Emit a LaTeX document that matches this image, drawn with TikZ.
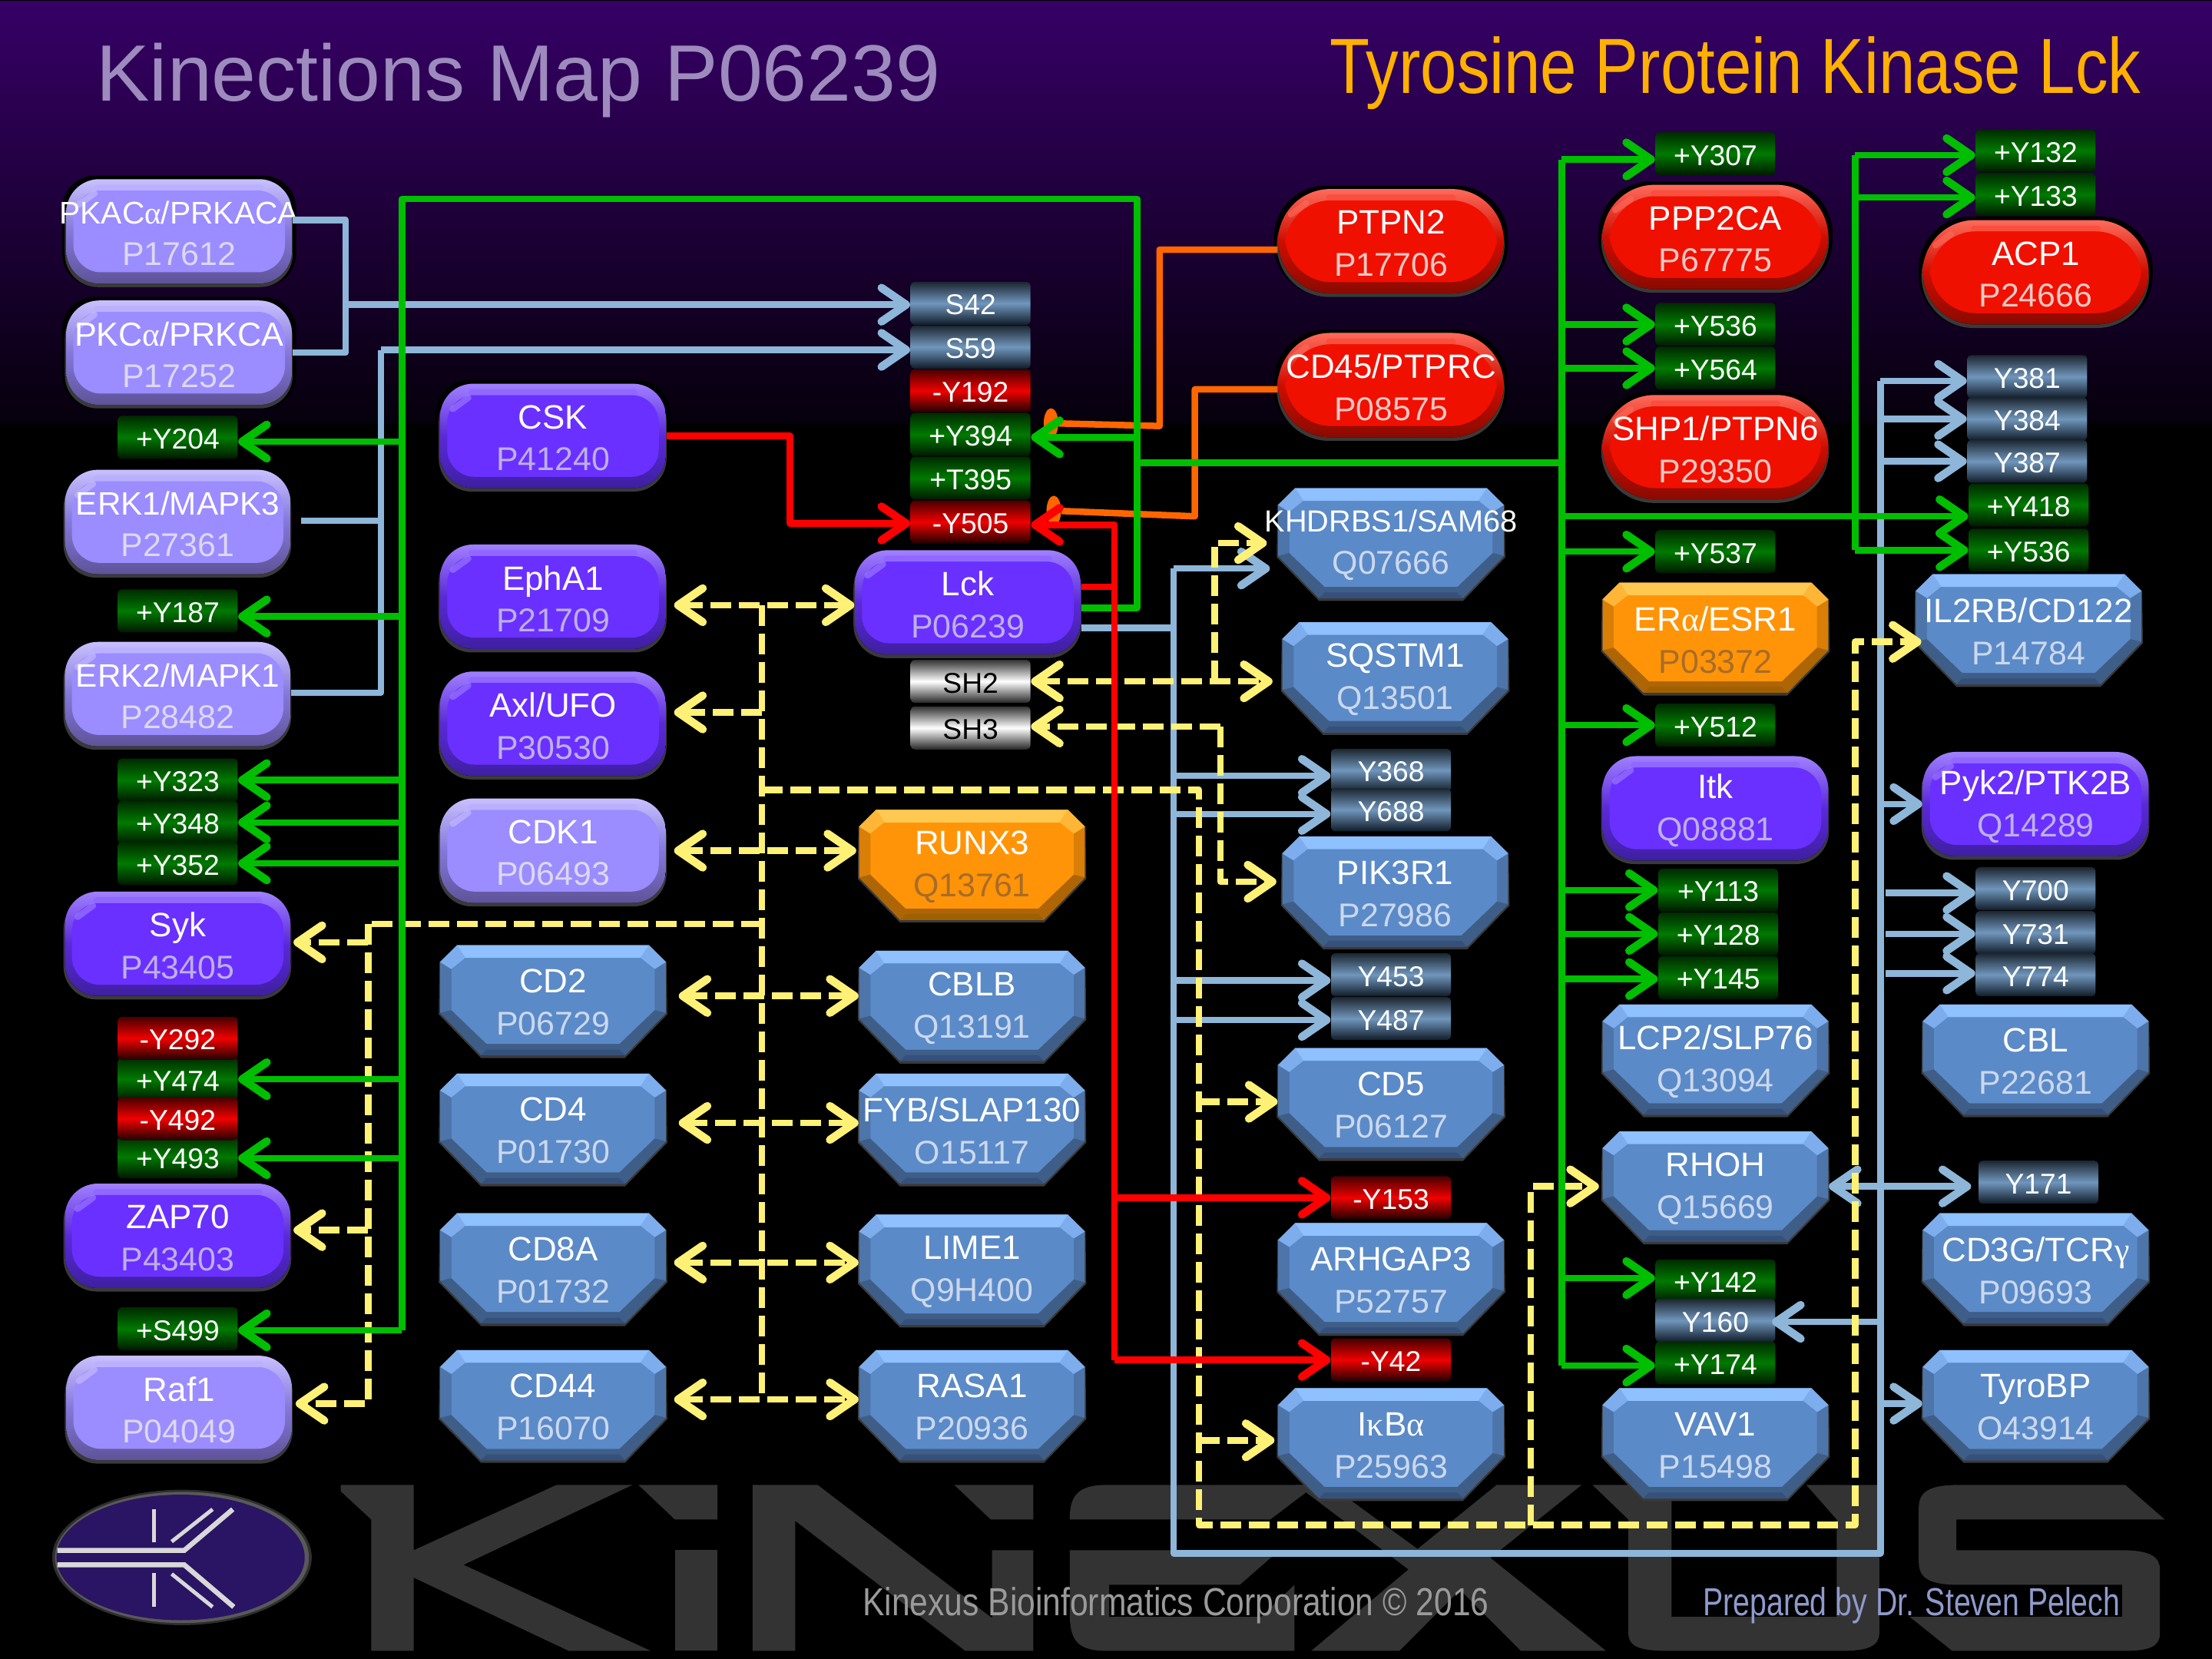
\documentclass[tikz,border=0pt]{standalone}
\usepackage{fontspec}
\usetikzlibrary{arrows.meta,shapes.geometric}
\setmainfont{Liberation Sans}
\newfontfamily\grk{Liberation Serif}
\newfontfamily\narrowa[FakeStretch=0.836]{Liberation Sans}
\newfontfamily\narrowb[FakeStretch=0.836]{Liberation Sans}
\newfontfamily\narrowc[FakeStretch=0.771]{Liberation Sans}
\definecolor{Ltop}{HTML}{C8C0FF}\definecolor{Lface}{HTML}{9B8CFF}\definecolor{Lbot}{HTML}{5E5398}\definecolor{Lid}{HTML}{DCD8F0}
\definecolor{Ptop}{HTML}{A080FF}\definecolor{Pface}{HTML}{6A30FF}\definecolor{Pbot}{HTML}{3E1FA0}\definecolor{Pid}{HTML}{BDB0E8}
\definecolor{Rtop}{HTML}{FF6A5A}\definecolor{Rface}{HTML}{F01000}\definecolor{Rbot}{HTML}{8A0A00}\definecolor{Rid}{HTML}{F5C8C4}
\definecolor{Btop}{HTML}{8FC0FF}\definecolor{Bface}{HTML}{5B8AC8}\definecolor{Bbot}{HTML}{35507A}\definecolor{Bid}{HTML}{CBD8EC}
\definecolor{Otop}{HTML}{FFC850}\definecolor{Oface}{HTML}{FF9408}\definecolor{Obot}{HTML}{A06000}\definecolor{Oid}{HTML}{A86C28}
\definecolor{shadowgrey}{HTML}{3A3A3A}
\definecolor{wmark}{HTML}{333333}
\definecolor{cblue}{HTML}{8DB6D9}\definecolor{cgreen}{HTML}{00BE00}\definecolor{cred}{HTML}{FF0000}
\definecolor{corange}{HTML}{FF6600}\definecolor{cyellow}{HTML}{FFF176}
\definecolor{bgtop}{HTML}{360066}\definecolor{bgbot}{HTML}{06000C}
\definecolor{logofill}{HTML}{2A1464}
\definecolor{logoline}{HTML}{D8D8D8}
\definecolor{titlea}{HTML}{9D8BBD}\definecolor{titleb}{HTML}{FFB000}
\definecolor{foota}{HTML}{9A9A9A}\definecolor{footb}{HTML}{8F9ACB}
\definecolor{gmid}{HTML}{007A00}\definecolor{gtop}{HTML}{002A00}\definecolor{gbot}{HTML}{001800}
\definecolor{rmid}{HTML}{F00000}\definecolor{rtop}{HTML}{480000}\definecolor{rbot}{HTML}{200000}
\definecolor{bmid}{HTML}{7096BC}\definecolor{btop}{HTML}{1C2630}\definecolor{bbot}{HTML}{101C28}
\definecolor{wtop}{HTML}{333333}\definecolor{wbot}{HTML}{262626}
\tikzset{
 kt/.tip={Straight Barb[length=3.2mm,width=4.4mm,round,line width=1.05mm]},
 conn/.style={line width=0.85mm,line join=round},
 bl/.style={conn,draw=cblue}, bla/.style={bl,-kt},
 gl/.style={conn,draw=cgreen}, gla/.style={gl,-kt},
 rl/.style={conn,draw=cred}, rla/.style={rl,-kt},
 ol/.style={conn,draw=corange},
 yl/.style={conn,draw=cyellow,dash pattern=on 2.7mm off 1mm}, yla/.style={yl,-kt}, yld/.style={yl,kt-kt},
 endoval/.style={ellipse,fill=corange,inner sep=0,minimum width=1.9mm,minimum height=3.9mm},
 kintext/.style={inner sep=0,minimum width=2.94cm,minimum height=1.36cm,align=center,text=white,yshift=-0.28mm,font=\fontsize{12.5}{15.6}\selectfont},
 site/.style={inner sep=0,minimum width=1.56cm,minimum height=0.56cm,rounded corners=0.5mm,text=white,text height=3mm,text depth=0pt,font=\fontsize{10.6}{12}\selectfont},
 gsite/.style={site,top color=gtop,bottom color=gbot,middle color=gmid},
 rsite/.style={site,top color=rtop,bottom color=rbot,middle color=rmid},
 bsite/.style={site,top color=btop,bottom color=bbot,middle color=bmid},
 wsite/.style={site,top color=wtop,bottom color=wbot,middle color=white,text=black},
}
\newcommand{\bevelR}[6]{\begin{scope}[shift={(#2,#3)}]
 \fill[black,rounded corners=#4] (-83,-39.5) rectangle (83,39);
 \fill[shadowgrey,rounded corners=#4] (-81,-34) rectangle (80.5,39.5);
 \fill[top color=#1top,bottom color=#1bot,middle color=#1face!85!black,rounded corners=#4] (-80,-37) rectangle (80,37);
 \fill[#1face,rounded corners=#5] (-75,-29) rectangle (75,29);
 \fill[#1top!70!#1face,rounded corners=0.4mm] (-#6,-33) rectangle (#6,-29);
 \draw[#1top,opacity=0.6,line width=0.8mm,line cap=round] (-71,-19) -- (-60,-27);
\end{scope}}
\newcommand{\bevelO}[3]{\begin{scope}[shift={(#2,#3)}]
 \fill[shadowgrey] (-68,-39) -- (68,-39) -- (80.5,-27) -- (81,10) -- (51,41) -- (-51,41) -- (-81,10) -- (-80.5,-27) -- cycle;
 \fill[#1face!85!black] (-68,-39) -- (68,-39) -- (80,-27) -- (80,9) -- (51,39) -- (-51,39) -- (-80,9) -- (-80,-27) -- cycle;
 \fill[#1face!68!black] (-80,9) -- (-72,7) -- (-47,31) -- (47,31) -- (72,7) -- (80,9) -- (51,39) -- (-51,39) -- cycle;
 \fill[#1bot] (-47,35) -- (47,35) -- (51,39) -- (-51,39) -- cycle;
 \fill[#1top!65!#1face] (-68,-39) -- (-62,-30) -- (-72,-22) -- (-80,-27) -- cycle;
 \fill[#1top!65!#1face] (68,-39) -- (62,-30) -- (72,-22) -- (80,-27) -- cycle;
 \fill[#1face] (-62,-30) -- (62,-30) -- (72,-22) -- (72,7) -- (47,31) -- (-47,31) -- (-72,7) -- (-72,-22) -- cycle;
 \fill[#1top] (-68,-39) -- (68,-39) -- (62,-30) -- (-62,-30) -- cycle;
\end{scope}}
\newcommand{\kinnode}[6]{\node[kintext] (#2) at (#3,#4) {\makebox[0pt]{#5}\\\fontsize{12.2}{15.6}\selectfont\textcolor{#1id}{\makebox[0pt]{#6}}};}
\newcommand{\kinR}[6]{\bevelR{#1}{#3}{#4}{4.3mm}{3.6mm}{60}\kinnode{#1}{#2}{#3}{#4}{#5}{#6}}
\newcommand{\kinP}[5]{\bevelR{R}{#2}{#3}{6.8mm}{6mm}{46}\kinnode{R}{#1}{#2}{#3}{#4}{#5}}
\newcommand{\kinO}[6]{\bevelO{#1}{#3}{#4}\kinnode{#1}{#2}{#3}{#4}{#5}{#6}}
\begin{document}
\begin{tikzpicture}[x=0.18367mm,y=-0.18367mm]
\useasboundingbox (0,0) rectangle (1568,1176);
\fill[black] (0,0) rectangle (1568,1176);
\fill[top color=bgtop,bottom color=bgbot] (0,1) rectangle (1568,300);
% watermark
\begin{scope}[shift={(4.2cm,-19cm)},x=0.07908mm,y=-0.03333mm]
 \fill[wmark] (30,100) -- (150,100) -- (150,355) -- (385,100) -- (510,100) -- (232,412) -- (540,748) -- (405,748) -- (150,462) -- (150,748) -- (80,748) -- (80,235) -- (30,125) -- cycle;
 \fill[wmark] (520,100) -- (650,100) -- (650,235) -- (580,235) -- cycle;
 \fill[wmark] (580,355) rectangle (650,748);
 \fill[wmark] (708,100) -- (815,100) -- (1102,620) -- (1102,355) -- (1170,355) -- (1170,748) -- (1058,748) -- (778,240) -- (778,748) -- (708,748) -- cycle;
 \fill[wmark] (1040,100) -- (1170,100) -- (1170,235) -- (1100,235) -- cycle;
 \fill[wmark] (1230,235) .. controls (1230,150) and (1240,100) .. (1290,100) -- (1635,100) -- (1560,235) -- cycle;
 \fill[wmark] (1230,355) -- (1575,355) -- (1510,490) -- (1295,490) -- (1295,615) -- (1545,615) -- (1600,490) -- (1600,748) -- (1290,748) .. controls (1240,748) and (1230,700) .. (1230,600) -- cycle;
\end{scope}
\begin{scope}[shift={(16.4cm,-19cm)},x=0.07908mm,y=-0.03333mm]
 \fill[wmark] (60,100) -- (115,100) -- (260,350) -- (390,100) -- (530,100) -- (380,385) -- (570,748) -- (430,748) -- (330,510) -- (230,748) -- (85,748) -- (245,430) -- cycle;
 \fill[wmark] (548,100) -- (678,100) -- (678,615) -- (950,615) -- (950,235) -- (900,100) -- (1020,100) -- (1020,680) .. controls (1020,730) and (1000,748) .. (960,748) -- (670,748) .. controls (625,748) and (607,730) .. (607,680) -- (607,235) -- cycle;
 \fill[wmark] (1085,190) .. controls (1085,130) and (1100,100) .. (1150,100) -- (1425,100) -- (1490,235) -- (1147,235) -- (1147,355) -- (1420,355) .. controls (1465,355) and (1482,380) .. (1482,430) -- (1482,680) .. controls (1482,730) and (1465,748) .. (1425,748) -- (1140,748) -- (1070,615) -- (1420,615) -- (1420,490) -- (1150,490) .. controls (1100,490) and (1085,460) .. (1085,400) -- cycle;
\end{scope}
% logo
\fill[black!82!white] (129,1104) ellipse [x radius=92,y radius=48];
\fill[black!65!white] (129,1104) ellipse [x radius=90,y radius=46.5];
\fill[logofill] (128,1104) ellipse [x radius=88,y radius=44.5];
\begin{scope}[shift={(0cm,-15cm)},x=0.06124mm,y=-0.04209mm]
 \draw[logoline,line width=0.65mm] (122,1232) -- (392,1232) -- (495,1105);
 \draw[logoline,line width=0.65mm] (122,1277) -- (392,1277) -- (497,1407);
 \draw[logoline,line width=0.5mm] (365,1205) -- (452,1105);
 \draw[logoline,line width=0.5mm] (365,1305) -- (452,1407);
 \draw[logoline,line width=0.5mm] (327,1105) -- (327,1207);
 \draw[logoline,line width=0.5mm] (327,1303) -- (327,1407);
\end{scope}
% titles
\node[anchor=west,inner sep=0,text=titlea,font=\fontsize{29.6}{32}\selectfont] (maintitle) at (68,57) {Kinections Map P06239};
\node[anchor=east,inner sep=0,text=titleb,font=\narrowa\fontsize{29}{32}\selectfont] (proteintitle) at (1518,52) {Tyrosine Protein Kinase Lck};
% protein nodes
\kinR{L}{pkaca}{127}{164}{{\fontsize{11.6}{15.6}\selectfont PKAC{\grk α}/PRKACA}}{P17612}
\kinR{L}{pkca}{127}{250}{{\fontsize{12.3}{15.6}\selectfont PKC{\grk α}/PRKCA}}{P17252}
\kinR{L}{erka}{126}{370}{{\fontsize{12}{15.6}\selectfont ERK1/MAPK3}}{P27361}
\kinR{L}{erkb}{126}{492}{{\fontsize{12}{15.6}\selectfont ERK2/MAPK1}}{P28482}
\kinR{L}{cdka}{392}{603}{CDK1}{P06493}
\kinR{L}{rafa}{127}{998}{Raf1}{P04049}
\kinR{P}{csk}{392}{309}{CSK}{P41240}
\kinR{P}{epha}{392}{423}{EphA1}{P21709}
\kinR{P}{axl}{392}{513}{Axl/UFO}{P30530}
\kinR{P}{lck}{686}{427}{Lck}{P06239}
\kinR{P}{itk}{1216}{573}{Itk}{Q08881}
\kinR{P}{pyk}{1443}{570}{Pyk2/PTK2B}{Q14289}
\kinR{P}{syk}{126}{669}{Syk}{P43405}
\kinR{P}{zap}{126}{876}{ZAP70}{P43403}
\kinP{ptpn}{986}{171}{PTPN2}{P17706}
\kinP{cdff}{986}{273}{CD45/PTPRC}{P08575}
\kinP{ppp}{1216}{168}{PPP2CA}{P67775}
\kinP{shp}{1216}{317}{SHP1/PTPN6}{P29350}
\kinP{acp}{1443}{193}{ACP1}{P24666}
\kinO{O}{runx}{689}{613}{RUNX3}{Q13761}
\kinO{O}{era}{1216}{452}{ER{\grk α}/ESR1}{P03372}
\kinO{B}{khd}{986}{385}{{\fontsize{11.3}{15.6}\selectfont KHDRBS1/SAM68}}{Q07666}
\kinO{B}{sqs}{989}{480}{SQSTM1}{Q13501}
\kinO{B}{pik}{989}{632}{PIK3R1}{P27986}
\kinO{B}{cdf}{986}{782}{CD5}{P06127}
\kinO{B}{arh}{986}{906}{ARHGAP3}{P52757}
\kinO{B}{ikb}{986}{1023}{I{\grk κ}B{\grk α}}{P25963}
\kinO{B}{cdb}{392}{709}{CD2}{P06729}
\kinO{B}{cdd}{392}{800}{CD4}{P01730}
\kinO{B}{cde}{392}{899}{CD8A}{P01732}
\kinO{B}{cdz}{392}{996}{CD44}{P16070}
\kinO{B}{cblb}{689}{713}{CBLB}{Q13191}
\kinO{B}{fyb}{689}{800}{FYB/SLAP130}{O15117}
\kinO{B}{lime}{689}{900}{LIME1}{Q9H400}
\kinO{B}{rasa}{689}{996}{RASA1}{P20936}
\kinO{B}{lcp}{1216}{751}{LCP2/SLP76}{Q13094}
\kinO{B}{rhoh}{1216}{841}{RHOH}{Q15669}
\kinO{B}{vav}{1216}{1023}{VAV1}{P15498}
\kinO{B}{ilr}{1438}{446}{IL2RB/CD122}{P14784}
\kinO{B}{cbl}{1443}{751}{CBL}{P22681}
\kinO{B}{cdg}{1443}{899}{CD3G/TCR{\grk γ}}{P09693}
\kinO{B}{tyro}{1443}{996}{TyroBP}{O43914}
% sites
\foreach \n/\x/\y/\t in {yb/126/310/+Y204,yc/126/433/+Y187,yd/126/553/+Y323,ye/126/583/+Y348,yf/126/612/+Y352,yg/126/765/+Y474,yh/126/820/+Y493,si/126/942/+S499,yj/688/308/+Y394,tk/688/339/+T395,yl/1216/109/+Y307,ym/1216/230/+Y536,yn/1216/261/+Y564,yo/1216/391/+Y537,yp/1216/514/+Y512,yq/1218/631/+Y113,yr/1218/662/+Y128,ys/1218/693/+Y145,yt/1216/908/+Y142,yu/1216/966/+Y174,yv/1443/107/+Y132,yw/1443/138/+Y133,yx/1438/358/+Y418,yy/1438/390/+Y536}
 \node[gsite] (\n) at (\x,\y) {\t};
\foreach \n/\x/\y/\t in {ra/688/277/-Y192,rb/688/370/-Y505,rc/126/736/-Y292,rd/126/793/-Y492,re/986/849/-Y153,rf/986/964/-Y42}
 \node[rsite] (\n) at (\x,\y) {\t};
\foreach \n/\x/\y/\t in {sa/688/215/S42,sb/688/246/S59,ba/1437/267/Y381,bb/1437/297/Y384,bc/1437/327/Y387,bd/986/546/Y368,be/986/574/Y688,bf/986/691/Y453,bg/986/722/Y487,bh/1443/630/Y700,bi/1443/661/Y731,bj/1443/691/Y774,bk/1445/838/Y171,bm/1216/936/Y160}
 \node[bsite] (\n) at (\x,\y) {\t};
\foreach \n/\x/\y/\t in {shb/688/483/SH2,shc/688/516/SH3}
 \node[wsite] (\n) at (\x,\y) {\t};
% bus coordinates
\coordinate (bA) at (245,216);
\coordinate (bB) at (270,248);
\coordinate (bC) at (832,403);
\coordinate (bD) at (1333,1101);
\coordinate (gA) at (806,141);
\coordinate (gB) at (285,141);
\coordinate (gC) at (1107,113);
\coordinate (gD) at (1315,110);
\coordinate (rA) at (560,309);
\coordinate (rB) at (790,372);
\coordinate (oA) at (822,177);
\coordinate (oB) at (847,276);
\coordinate (yA) at (540,429);
\coordinate (yB) at (850,1081);
\coordinate (yC) at (1315,1081);
\coordinate (yD) at (261,655);
\coordinate (yE) at (861,385);
\coordinate (yF) at (865,515);
\coordinate (yG) at (1085,841);
\node[endoval] (oa) at (745,300) {};
\node[endoval] (ob) at (747,362) {};
% blue connectors
\draw[bl] (pkaca.east |- 0,156) -- (bA |- 0,156) -- (bA |- 0,250) -- (pkca.east |- 0,250);
\draw[bla] (bA) -- (sa.west |- bA);
\draw[bla] (bB) -- (sb.west |- bB);
\draw[bl] (bB) -- (bB |- 0,491) -- (erkb.east |- 0,491);
\draw[bl,shorten <=1.3mm] (erka.east |- 0,369) -- (bB |- 0,369);
\draw[bl] (lck.east |- 0,445) -- (bC |- 0,445);
\draw[bl] (bC) -- (bC |- bD) -- (bD) -- (bD |- 0,270);
\draw[bla,shorten >=1mm] (bC) -- (khd.west |- bC);
\foreach \t/\yy in {bd/550,be/577,bf/695,bg/723}
 \draw[bla] (bC |- 0,\yy) -- (\t.west |- 0,\yy);
\foreach \t/\yy in {ba/270,bb/297,bc/327,pyk/570}
 \draw[bla] (bD |- 0,\yy) -- (\t.west |- 0,\yy);
\foreach \t/\yy in {bh/633,bi/662,bj/690}
 \draw[bla,shorten <=0.7mm] (bD |- 0,\yy) -- (\t.west |- 0,\yy);
\draw[bl,kt-kt,shorten >=0.9mm] (rhoh.east |- 0,841) -- (bk.west |- 0,841);
\draw[bla,shorten >=-0.5mm] (bD |- 0,937) -- (bm.east |- 0,937);
\draw[bla] (bD |- 0,995) -- (tyro.west |- 0,995);
% orange connectors
\draw[ol] (ptpn.west |- 0,177) -- (oA) -- (oA |- 0,302) -- (oa);
\draw[ol] (cdff.west |- 0,276) -- (oB) -- (oB |- 0,366) -- (ob);
% yellow connectors
\draw[yld,shorten <=1mm] (epha.east |- 0,429) -- (lck.west |- 0,429);
\draw[yl] (yA) -- (yA |- 0,992);
\draw[yla,shorten >=1mm] (yA |- 0,505) -- (axl.east |- 0,505);
\draw[yld,shorten <=1mm,shorten >=0.3mm] (cdka.east |- 0,603) -- (runx.west |- 0,603);
\draw[yld,shorten <=1.6mm] (cdb.east |- 0,706) -- (cblb.west |- 0,706);
\draw[yld,shorten <=1.6mm] (cdd.east |- 0,796) -- (fyb.west |- 0,796);
\draw[yld,shorten <=1mm] (cde.east |- 0,895) -- (lime.west |- 0,895);
\draw[yld,shorten <=1mm] (cdz.east |- 0,992) -- (rasa.west |- 0,992);
\draw[yla,shorten >=-0.8mm] (yA |- 0,560) -- (yB |- 0,560) -- (yB) -- (yC) -- (yC |- 0,455) -- (ilr.west |- 0,455);
\draw[yla] (yB |- 0,781) -- (cdf.west |- 0,781);
\draw[yla,shorten >=0.4mm] (yB |- 0,1021) -- (ikb.west |- 0,1021);
\draw[yla,shorten >=0.4mm] (yG |- yB) -- (yG) -- (rhoh.west |- yG);
\draw[yl] (yA |- yD) -- (yD);
\draw[yla,shorten >=0.4mm] (yD) -- (yD |- 0,995) -- (rafa.east |- 0,995);
\draw[yla,shorten >=0.3mm] (yD |- 0,668) -- (syk.east |- 0,668);
\draw[yla,shorten >=0.3mm] (yD |- 0,872) -- (zap.east |- 0,872);
\draw[yld,shorten >=1.2mm] (shb.east |- 0,483) -- (sqs.west |- 0,483);
\draw[yla,shorten >=1.4mm] (yE |- 0,483) -- (yE) -- (khd.west |- yE);
\draw[yla,shorten >=0.7mm] (yF) -- (yF |- 0,625) -- (pik.west |- 0,625);
\draw[yla] (yF) -- (shc.east |- yF);
% green connectors
\draw[gl] (lck.east |- 0,431) -- (gA |- 0,431) -- (gA) -- (gB) -- (gB |- 0,943);
\foreach \t/\yy in {yb/313,yc/437,yd/553,ye/583,yf/612,yg/765,yh/821,si/943}
 \draw[gla] (gB |- 0,\yy) -- (\t.east |- 0,\yy);
\draw[gla] (gA |- 0,310) -- (yj.east |- 0,310);
\draw[gl] (gA |- 0,328) -- (gC |- 0,328);
\draw[gl] (gC) -- (gC |- 0,968);
\foreach \t/\yy in {yl/113,ym/230,yn/261,yo/391,yp/514,yq/631,yr/662,ys/694,yt/906,yu/968}
 \draw[gla] (gC |- 0,\yy) -- (\t.west |- 0,\yy);
\draw[gla] (gC |- 0,366) -- (yx.west |- 0,366);
\draw[gl] (gD) -- (gD |- 0,390);
\foreach \t/\yy in {yv/110,yw/140,yy/390}
 \draw[gla] (gD |- 0,\yy) -- (\t.west |- 0,\yy);
% red connectors
\draw[rla] (csk.east |- rA) -- (rA) -- (rA |- 0,371) -- (rb.west |- 0,371);
\draw[rl] (lck.east |- 0,416) -- (rB |- 0,416);
\draw[rla] (rB |- 0,964) -- (rB) -- (rb.east |- rB);
\draw[rla] (rB |- 0,849) -- (re.west |- 0,849);
\draw[rla] (rB |- 0,964) -- (rf.west |- 0,964);
% footer
\node[inner sep=0,text=foota,font=\narrowb\fontsize{14.5}{16}\selectfont] (credit) at (833.5,1138) {Kinexus Bioinformatics Corporation © 2016};
\node[inner sep=0,text=footb,font=\narrowc\fontsize{14.5}{16}\selectfont] (author) at (1355,1138) {Prepared by Dr. Steven Pelech};
\end{tikzpicture}
\end{document}
